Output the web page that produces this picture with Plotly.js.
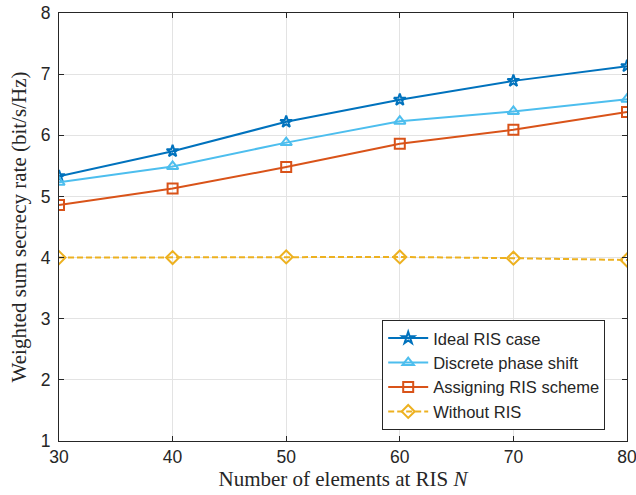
<!DOCTYPE html>
<html><head><meta charset="utf-8">
<script src="https://cdn.plot.ly/plotly-3.0.1.min.js"></script>
<style>body{margin:0;padding:0;background:#fff}#chart{width:636px;height:495px}</style>
</head><body><div id="chart"></div>
<script>
const N = [30, 40, 50, 60, 70, 80];
const ideal = [5.33, 5.74, 6.22, 6.58, 6.89, 7.13];
const discrete = [5.23, 5.49, 5.88, 6.23, 6.39, 6.59];
const assigning = [4.86, 5.13, 5.48, 5.86, 6.09, 6.38];
const withoutRIS = [4.00, 4.00, 4.01, 4.01, 3.99, 3.96];
const names = ['Ideal RIS case', 'Discrete phase shift', 'Assigning RIS scheme', 'Without RIS'];
const colors = ['#0072BD', '#4DBEEE', '#D95319', '#EDB120'];
const symbols = ['star-open', 'triangle-up-open', 'square-open', 'diamond-open'];
const series = [ideal, discrete, assigning, withoutRIS];

const traces = series.map((y, i) => ({
  x: N, y: y, name: names[i], type: 'scatter', mode: 'lines+markers',
  line: {color: colors[i], width: 2, dash: i === 3 ? '6px,3px' : 'solid'},
  marker: {symbol: symbols[i], size: i === 0 ? 9 : 10, color: colors[i], line: {color: colors[i], width: 2}}
}));

const axisCommon = {
  showline: true, mirror: 'ticks', linecolor: '#262626', linewidth: 1,
  ticks: 'inside', ticklen: 5, tickcolor: '#262626',
  showgrid: true, gridcolor: '#e3e3e3', gridwidth: 1, zeroline: false,
  ticklabeloverflow: 'allow',
  tickfont: {family: 'Liberation Sans, Arial, sans-serif', size: 17.5, color: '#262626'}
};

const layout = {
  width: 636, height: 495,
  margin: {l: 59, r: 9, t: 13, b: 54},
  paper_bgcolor: '#fff', plot_bgcolor: '#fff',
  showlegend: true,
  xaxis: Object.assign({}, axisCommon, {
    range: [30, 80], tickvals: [30, 40, 50, 60, 70, 80],
    title: {text: 'Number of elements at RIS <i>N</i>', standoff: 2,
      font: {family: 'Liberation Serif, Times New Roman, serif', size: 21, color: '#262626'}}
  }),
  yaxis: Object.assign({}, axisCommon, {
    range: [1, 8], tickvals: [1, 2, 3, 4, 5, 6, 7, 8], ticklabelstandoff: 4,
    title: {text: 'Weighted sum secrecy rate (bit/s/Hz)', standoff: 8,
      font: {family: 'Liberation Serif, Times New Roman, serif', size: 21, color: '#262626'}}
  }),
  legend: {
    x: 0.569, y: 0.283, xanchor: 'left', yanchor: 'top',
    bgcolor: '#fff', bordercolor: '#262626', borderwidth: 1,
    font: {family: 'Liberation Sans, Arial, sans-serif', size: 16.5, color: '#262626'},
    tracegroupgap: 0, itemwidth: 40
  }
};

Plotly.newPlot('chart', traces, layout, {displayModeBar: false, staticPlot: true});
</script></body></html>
